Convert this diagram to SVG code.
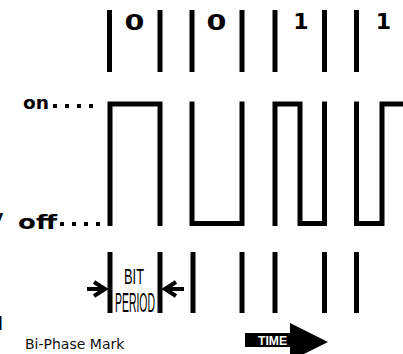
<svg xmlns="http://www.w3.org/2000/svg" width="403" height="354" viewBox="0 0 403 354">
  <style>
    .bar { stroke: #000; stroke-width: 5; fill: none; }
    .wave { stroke: #000; stroke-width: 5; fill: none; stroke-linecap: square; stroke-linejoin: miter; }
    .dot { fill: #000; }
    .bit { font-family: "DejaVu Sans", "Liberation Sans", sans-serif; font-weight: bold; font-size: 22px; fill: #000; text-anchor: middle; }
    .lvl { font-family: "DejaVu Sans", "Liberation Sans", sans-serif; font-weight: bold; fill: #000; }
    .chev { stroke: #000; stroke-width: 4; fill: none; stroke-linejoin: miter; }
    .cond { font-family: "Liberation Sans", sans-serif; fill: #000; }
  </style>

  <!-- bit boundary markers along the top -->
  <g id="top-markers">
    <line class="bar" x1="109.5" y1="10" x2="109.5" y2="72"/>
    <line class="bar" x1="160" y1="10" x2="160" y2="72"/>
    <line class="bar" x1="192" y1="10" x2="192" y2="72"/>
    <line class="bar" x1="242" y1="10" x2="242" y2="72"/>
    <line class="bar" x1="275" y1="10" x2="275" y2="72"/>
    <line class="bar" x1="324.5" y1="10" x2="324.5" y2="72"/>
    <line class="bar" x1="356.5" y1="10" x2="356.5" y2="72"/>
  </g>

  <!-- bit values -->
  <g id="bit-values">
    <text class="bit" x="134.5" y="30" transform="translate(134.5 0) scale(1.3 1) translate(-134.5 0)">0</text>
    <text class="bit" x="216.5" y="30" transform="translate(216.5 0) scale(1.3 1) translate(-216.5 0)">0</text>
    <text class="bit" x="301" y="29" font-size="20">1</text>
    <text class="bit" x="383.5" y="29" font-size="20">1</text>
  </g>

  <!-- level labels -->
  <g id="level-on">
    <text class="lvl" x="23" y="109" font-size="17" textLength="26" lengthAdjust="spacingAndGlyphs">on</text>
    <rect class="dot" x="53" y="104" width="4" height="4"/>
    <rect class="dot" x="65" y="104" width="4" height="4"/>
    <rect class="dot" x="77" y="104" width="4" height="4"/>
    <rect class="dot" x="89" y="104" width="4" height="4"/>
  </g>
  <g id="level-off">
    <text class="lvl" x="18" y="229" font-size="19" textLength="39" lengthAdjust="spacingAndGlyphs">off</text>
    <rect class="dot" x="60" y="222" width="4" height="4"/>
    <rect class="dot" x="72" y="222" width="4" height="4"/>
    <rect class="dot" x="84" y="222" width="4" height="4"/>
    <rect class="dot" x="96" y="222" width="4" height="4"/>
  </g>

  <!-- cut-off text at the left edge -->
  <g id="edge-text">
    <text class="lvl" x="-7" y="222" font-size="16" font-weight="normal">y</text>
    <text class="lvl" x="-3" y="330" font-size="17">l</text>
  </g>

  <!-- bi-phase mark waveform -->
  <g id="waveform">
    <path class="wave" d="M110,223.5 V104 H160 V223.5"/>
    <path class="wave" d="M192,104 V223.5 H242 V104"/>
    <path class="wave" d="M275,223.5 V104 H300 V223.5 H324.5 V104"/>
    <path class="wave" d="M356.5,104 V223.5 H382 V104 H410"/>
  </g>

  <!-- bit boundary markers along the bottom -->
  <g id="bottom-markers">
    <line class="bar" x1="110" y1="252" x2="110" y2="313"/>
    <line class="bar" x1="160" y1="252" x2="160" y2="313"/>
    <line class="bar" x1="193" y1="252" x2="193" y2="313"/>
    <line class="bar" x1="242" y1="252" x2="242" y2="313"/>
    <line class="bar" x1="275" y1="252" x2="275" y2="313"/>
    <line class="bar" x1="324.5" y1="252" x2="324.5" y2="313"/>
    <line class="bar" x1="356.5" y1="252" x2="356.5" y2="313"/>
  </g>

  <!-- bit period dimension -->
  <g id="bit-period">
    <line class="chev" x1="87" y1="289" x2="106" y2="289"/>
    <polyline class="chev" points="94,282 105,289 94,296"/>
    <line class="chev" x1="165" y1="289" x2="184" y2="289"/>
    <polyline class="chev" points="176,282 165,289 176,296"/>
    <text class="cond" x="124" y="284" font-size="22" textLength="20" lengthAdjust="spacingAndGlyphs">BIT</text>
    <text class="cond" x="115" y="312" font-size="27" textLength="40" lengthAdjust="spacingAndGlyphs">PERIOD</text>
  </g>

  <!-- time arrow -->
  <g id="time-arrow">
    <rect x="245" y="333" width="47" height="14" fill="#000"/>
    <polygon points="290,323 328,342 290,361" fill="#000"/>
    <text x="258" y="345" font-family="Liberation Sans, sans-serif" font-weight="bold" font-size="12" fill="#fff" textLength="29" lengthAdjust="spacingAndGlyphs">TIME</text>
  </g>

  <!-- caption -->
  <g id="caption">
    <text x="25" y="349" font-family="DejaVu Sans, sans-serif" font-size="14" fill="#111">Bi-Phase Mark</text>
  </g>
</svg>
